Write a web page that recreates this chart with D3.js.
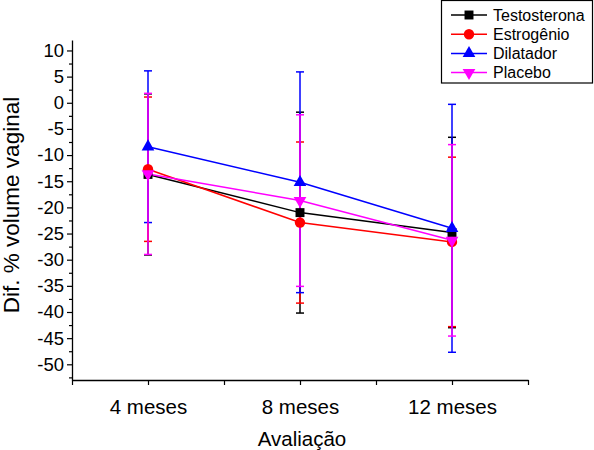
<!DOCTYPE html>
<html>
<head>
<meta charset="utf-8">
<script src="https://cdn.jsdelivr.net/npm/d3@7/dist/d3.min.js"></script>
<style>
  html, body { margin: 0; padding: 0; background: #fff; }
  svg { display: block; font-family: "Liberation Sans", Arial, Helvetica, sans-serif; }
</style>
</head>
<body>
<svg id="chart" width="594" height="450"></svg>
<script>
const categories = ["4 meses", "8 meses", "12 meses"];
const seriesNames = ["Testosterona", "Estrogênio", "Dilatador", "Placebo"];
const testosterona = [-13.7, -21.0, -24.8];
const testosteronaErr = [15.4, 19.2, 18.2];
const estrogenio = [-12.7, -22.9, -26.6];
const estrogenioErr = [13.8, 15.4, 16.2];
const dilatador = [-8.4, -15.2, -24.0];
const dilatadorErr = [14.5, 21.1, 23.7];
const placebo = [-13.6, -18.7, -26.3];
const placeboErr = [15.4, 16.4, 18.3];
const yTicks = [10, 5, 0, -5, -10, -15, -20, -25, -30, -35, -40, -45, -50];
const xLabel = "Avaliação";
const yLabel = "Dif. % volume vaginal";

const series = [
  { name: seriesNames[0], values: testosterona, err: testosteronaErr, color: "#000000", symbol: d3.symbolSquare, size: 80, rot: 0 },
  { name: seriesNames[1], values: estrogenio, err: estrogenioErr, color: "#ff0000", symbol: d3.symbolCircle, size: 85, rot: 0 },
  { name: seriesNames[2], values: dilatador, err: dilatadorErr, color: "#0000ff", symbol: d3.symbolTriangle, size: 70, rot: 0 },
  { name: seriesNames[3], values: placebo, err: placeboErr, color: "#ff00ff", symbol: d3.symbolTriangle, size: 70, rot: 180 }
];

const svg = d3.select("#chart");
const x = d3.scaleLinear().domain([0.5, 3.5]).range([72, 528]);
const y = d3.scaleLinear().domain([-53, 12]).range([380, 40]);

// Y axis
const yAxis = svg.append("g").attr("transform", `translate(${x(0.5)},0)`)
  .call(d3.axisLeft(y).tickValues(yTicks).tickSize(5).tickSizeOuter(0).tickPadding(3).tickFormat(d => String(d)));
yAxis.selectAll("text").attr("font-size", 18.5).attr("fill", "#000").attr("font-family", "Liberation Sans, Arial, sans-serif");
yAxis.select(".domain").attr("stroke", "#000").attr("stroke-width", 1.3);
yAxis.selectAll(".tick line").attr("stroke", "#000").attr("stroke-width", 1.2);
const yMinor = svg.append("g").attr("transform", `translate(${x(0.5)},0)`)
  .call(d3.axisLeft(y).tickValues(d3.range(-52.5, 12, 5)).tickSize(3).tickSizeOuter(0).tickFormat(""));
yMinor.select(".domain").remove();
yMinor.selectAll(".tick line").attr("stroke", "#000").attr("stroke-width", 1.2);

// X axis
const xAxis = svg.append("g").attr("transform", `translate(0,${y(-53)})`)
  .call(d3.axisBottom(x).tickValues([1, 2, 3]).tickSize(5).tickSizeOuter(0).tickPadding(14).tickFormat((d, i) => categories[i]));
xAxis.selectAll("text").attr("font-size", 20.5).attr("fill", "#000").attr("font-family", "Liberation Sans, Arial, sans-serif");
xAxis.select(".domain").attr("stroke", "#000").attr("stroke-width", 1.3);
xAxis.selectAll(".tick line").attr("stroke", "#000").attr("stroke-width", 1.2);
const xMinor = svg.append("g").attr("transform", `translate(0,${y(-53)})`)
  .call(d3.axisBottom(x).tickValues([0.5, 1.5, 2.5, 3.5]).tickSize(5).tickSizeOuter(0).tickFormat(""));
xMinor.select(".domain").remove();
xMinor.selectAll(".tick line").attr("stroke", "#000").attr("stroke-width", 1.2);

// Axis titles
svg.append("text").attr("x", 302).attr("y", 446).attr("text-anchor", "middle")
  .attr("font-size", 20.5).text(xLabel);
svg.append("text").attr("transform", "translate(19,205) rotate(-90)").attr("text-anchor", "middle")
  .attr("font-size", 22.5).text(yLabel);

// Error bars
const capW = 4;
series.forEach(s => {
  const g = svg.append("g");
  s.values.forEach((v, i) => {
    const cx = x(i + 1);
    const top = y(v + s.err[i]), bot = y(v - s.err[i]);
    g.append("line").attr("x1", cx).attr("x2", cx).attr("y1", top).attr("y2", bot)
      .attr("stroke", s.color).attr("stroke-width", 1.5);
    [top, bot].forEach(yy => g.append("line").attr("x1", cx - capW).attr("x2", cx + capW)
      .attr("y1", yy).attr("y2", yy).attr("stroke", s.color).attr("stroke-width", 1.5));
  });
});

// Lines
const line = d3.line().x((d, i) => x(i + 1)).y(d => y(d));
series.forEach(s => {
  svg.append("path").attr("d", line(s.values)).attr("fill", "none")
    .attr("stroke", s.color).attr("stroke-width", 1.5);
});

// Markers
series.forEach(s => {
  const sym = d3.symbol().type(s.symbol).size(s.size);
  s.values.forEach((v, i) => {
    svg.append("path").attr("d", sym())
      .attr("transform", `translate(${x(i + 1)},${y(v)}) rotate(${s.rot})`)
      .attr("fill", s.color);
  });
});

// Legend
const lg = svg.append("g");
lg.append("rect").attr("x", 441.5).attr("y", 0.5).attr("width", 151).attr("height", 82.5)
  .attr("fill", "#fff").attr("stroke", "#000").attr("stroke-width", 1.2);
series.forEach((s, i) => {
  const ry = 15 + i * 19.2;
  lg.append("line").attr("x1", 451).attr("x2", 487).attr("y1", ry).attr("y2", ry)
    .attr("stroke", s.color).attr("stroke-width", 1.5);
  lg.append("path").attr("d", d3.symbol().type(s.symbol).size(s.size)())
    .attr("transform", `translate(469,${ry}) rotate(${s.rot})`).attr("fill", s.color);
  lg.append("text").attr("x", 493).attr("y", ry).attr("dy", "0.36em")
    .attr("font-size", 16).text(s.name);
});
</script>
</body>
</html>
